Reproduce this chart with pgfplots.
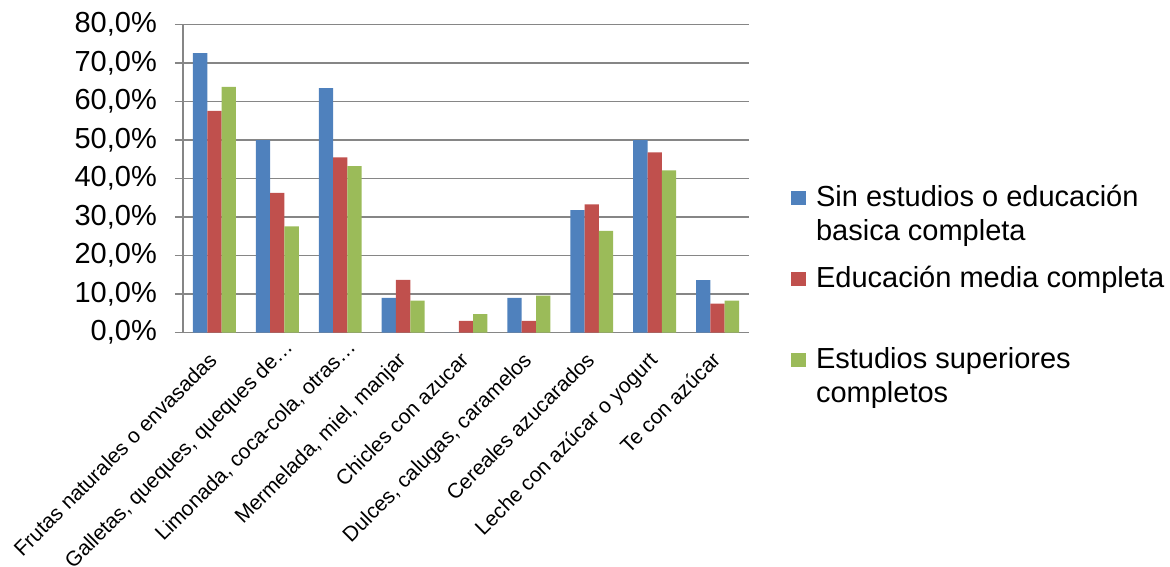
\documentclass[border=0pt]{standalone}
\usepackage{fontspec}
\setmainfont{Liberation Sans}
\usepackage{pgfplots}
\pgfplotsset{compat=1.18}
\definecolor{cBlue}{HTML}{4F81BD}
\definecolor{cRed}{HTML}{C0504D}
\definecolor{cGreen}{HTML}{9BBB59}
\definecolor{cGrid}{HTML}{868686}
\newcommand{\lstrut}{\rule[-10.2pt]{0pt}{34pt}}
\begin{document}
\begin{tikzpicture}[x=1pt,y=1pt]
\useasboundingbox (0,0) rectangle (1170,-566);
\begin{axis}[
  at={(183pt,-332.5pt)}, anchor=south west,
  width=566pt, height=308pt, scale only axis,
  ybar=0pt, bar width=14.3pt,
  xmin=-0.5, xmax=8.5, ymin=0, ymax=80,
  xtick={0,...,8},
  xticklabels={Frutas naturales o envasadas, {Galletas, queques, queques de…\kern-18pt}, {Limonada, coca-cola, otras…\kern-18pt}, {Mermelada, miel, manjar}, Chicles con azucar, {Dulces, calugas, caramelos}, Cereales azucarados, Leche con azúcar o yogurt, Te con azúcar},
  xticklabel style={xshift=-7pt, yshift=-10pt, rotate=45, anchor=north east, inner sep=0pt, font=\fontsize{21}{25}\selectfont},
  minor xtick={-0.5,0.5,...,8.5},
  ytick={0,10,...,80},
  yticklabels={{0,0\%},{10,0\%},{20,0\%},{30,0\%},{40,0\%},{50,0\%},{60,0\%},{70,0\%},{80,0\%}},
  yticklabel style={anchor=east, inner sep=0pt, xshift=-18pt, font=\fontsize{29}{35}\selectfont},
  axis x line*=bottom, axis y line*=left,
  axis line style={cGrid, line width=1.5pt, -},
  tick align=outside,
  xtick style={draw=none},
  minor tick style={cGrid, line width=1.5pt},
  ytick style={cGrid, line width=1.5pt},
  major tick length=8pt, minor tick length=6pt,
  ymajorgrids, grid style={cGrid, line width=1.5pt},
  legend style={at={(rel axis cs:1.074,0.4945)}, anchor=north west, draw=none, fill=none,
    font=\fontsize{29}{34}\selectfont, inner sep=0pt, row sep=18pt, column sep=8pt,
    cells={anchor=base west, align=left, inner sep=0pt}},
  legend image code/.code={\fill[#1] (0pt,35.5pt) rectangle (15pt,49.5pt);},
]
\addplot[fill=cBlue, draw=none] coordinates {(0,72.6) (1,50.0) (2,63.5) (3,9.0) (4,0) (5,9.0) (6,31.8) (7,50.0) (8,13.6)};
\addlegendentry{\lstrut Sin estudios o educación\\\lstrut basica completa}
\addplot[fill=cRed, draw=none] coordinates {(0,57.6) (1,36.3) (2,45.5) (3,13.7) (4,3.0) (5,3.0) (6,33.3) (7,46.8) (8,7.5)};
\addlegendentry{\lstrut Educación media completa\\\lstrut}
\addplot[fill=cGreen, draw=none] coordinates {(0,63.8) (1,27.6) (2,43.2) (3,8.3) (4,4.8) (5,9.6) (6,26.4) (7,42.1) (8,8.3)};
\addlegendentry{\lstrut Estudios superiores\\\lstrut completos}
\end{axis}
\end{tikzpicture}
\end{document}
